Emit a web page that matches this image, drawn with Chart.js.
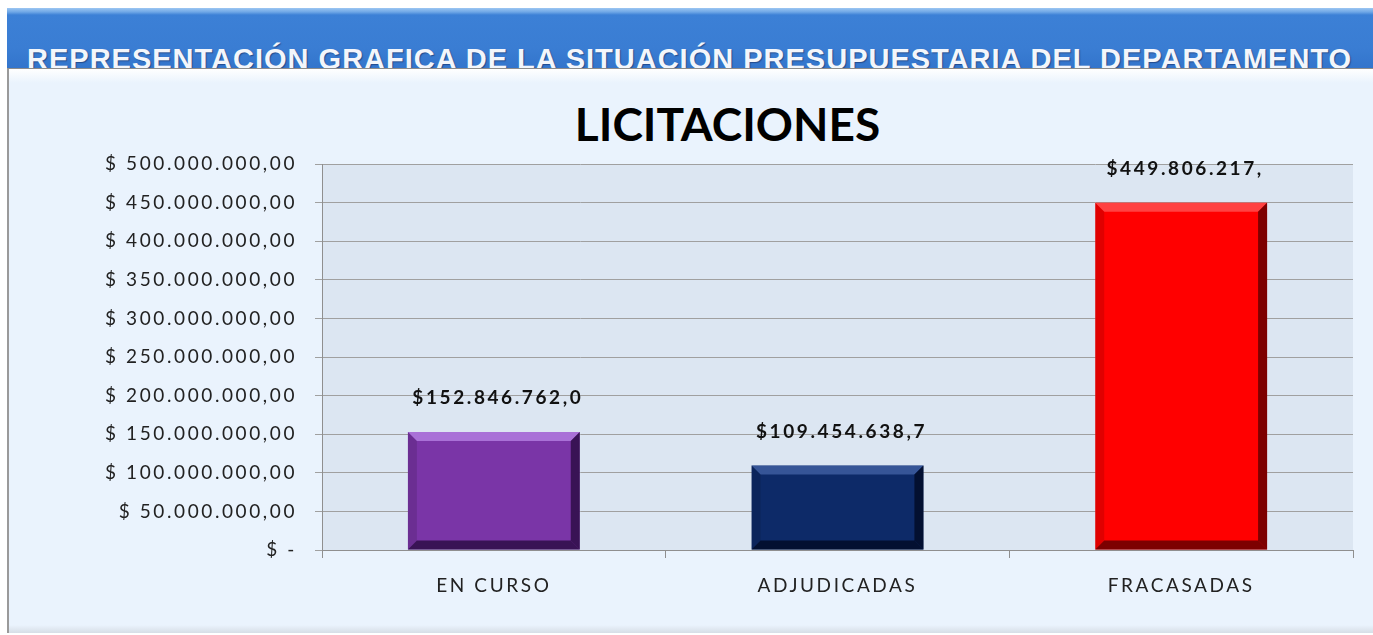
<!DOCTYPE html>
<html lang="es">
<head>
<meta charset="utf-8">
<title>Licitaciones</title>
<script src="https://cdn.jsdelivr.net/npm/chart.js@4"></script>
<style>
  html, body { margin: 0; padding: 0; background: #fff; width: 1373px; height: 635px; overflow: hidden; }
  .banner {
    position: absolute; left: 7px; top: 8px; width: 1366px; height: 62px;
    background: linear-gradient(to bottom, #9cc6f2 0px, #6fa7e6 4px, #3c80d6 7px, #3a7dd3 40px, #3274cb 62px);
    overflow: hidden;
  }
  .banner span {
    position: absolute; left: 20px; top: 35px;
    font: bold 29px "Liberation Sans", Arial, sans-serif; letter-spacing: 1px;
    color: #f3f6fb; text-shadow: 1px 1px 1px rgba(20,40,90,0.55); white-space: nowrap;
  }
  .panel {
    position: absolute; left: 7px; top: 68px; width: 1366px; height: 565px;
    background: linear-gradient(to bottom, #ffffff 0px, #eaf3fd 14px, #eaf3fd 556px, #d4dbe3 565px);
    border-top: 1px solid #8c8c8c; border-left: 2px solid #9a9a9a; box-sizing: border-box;
  }
  .title {
    position: absolute; left: 0; width: 1455px; top: 96px; text-align: center;
    font: bold 46px Lato, "Open Sans", sans-serif; color: #000;
  }
  #chart { position: absolute; left: 7px; top: 68px; }
</style>
</head>
<body>
<div class="banner"><span>REPRESENTACIÓN GRAFICA DE LA SITUACIÓN PRESUPUESTARIA DEL DEPARTAMENTO</span></div>
<div class="panel"></div>
<div class="title">LICITACIONES</div>
<canvas id="chart" width="1366" height="565"></canvas>
<script>
// Datos del grafico
const categories = ["EN CURSO", "ADJUDICADAS", "FRACASADAS"];
const values = [152846762.0, 109454638.7, 449806217.0];
const valueLabels = ["$152.846.762,0", "$109.454.638,7", "$449.806.217,"];
const yTickLabels = ["$ -", "$ 50.000.000,00", "$ 100.000.000,00", "$ 150.000.000,00",
  "$ 200.000.000,00", "$ 250.000.000,00", "$ 300.000.000,00", "$ 350.000.000,00",
  "$ 400.000.000,00", "$ 450.000.000,00", "$ 500.000.000,00"];

const barColors = ["#7a35a7", "#0d2a68", "#ff0000"];
const bevelLight = ["rgba(190,140,235,0.7)", "rgba(90,120,190,0.55)", "rgba(255,120,120,0.55)"];
const bevelDark = ["rgba(30,5,50,0.7)", "rgba(0,5,25,0.7)", "rgba(70,0,0,0.7)"];

// Texto algo mas ancho (el original esta estirado)
const spacing = {
  id: "spacing",
  beforeLayout(chart) { chart.ctx.letterSpacing = "2.6px"; },
  beforeDraw(chart) { chart.ctx.letterSpacing = "2.6px"; }
};

// Fondo del area de trazado
const plotBg = {
  id: "plotBg",
  beforeDraw(chart) {
    const { ctx, chartArea: a } = chart;
    ctx.save();
    ctx.fillStyle = "#dce6f2";
    ctx.fillRect(a.left, a.top, a.right - a.left, a.bottom - a.top);
    ctx.restore();
  }
};

// Bisel de las barras
const bevel = {
  id: "bevel",
  afterDatasetsDraw(chart) {
    const ctx = chart.ctx;
    const poly = (pts, color) => {
      ctx.beginPath();
      ctx.moveTo(pts[0][0], pts[0][1]);
      pts.slice(1).forEach(p => ctx.lineTo(p[0], p[1]));
      ctx.closePath();
      ctx.fillStyle = color;
      ctx.fill();
    };
    chart.getDatasetMeta(0).data.forEach((bar, i) => {
      const p = bar.getProps(["x", "y", "base", "width"], true);
      const l = p.x - p.width / 2, r = p.x + p.width / 2, t = p.y, b = p.base;
      const d = 9;
      ctx.save();
      poly([[l, t], [r, t], [r - d, t + d], [l + d, t + d]], bevelLight[i]);
      poly([[r, t], [r, b], [r - d, b - d], [r - d, t + d]], bevelDark[i]);
      poly([[l, b], [r, b], [r - d, b - d], [l + d, b - d]], bevelDark[i]);
      poly([[l, t], [l, b], [l + d, b - d], [l + d, t + d]], "rgba(0,0,0,0.12)");
      ctx.restore();
    });
  }
};

// Etiquetas de valor
const valueText = {
  id: "valueText",
  afterDatasetsDraw(chart) {
    const ctx = chart.ctx;
    ctx.save();
    ctx.font = "bold 19px Lato, 'Open Sans', sans-serif";
    ctx.fillStyle = "#111";
    ctx.textAlign = "center";
    ctx.textBaseline = "middle";
    chart.getDatasetMeta(0).data.forEach((bar, i) => {
      ctx.fillText(valueLabels[i], bar.x + 4, bar.y - 34);
    });
    ctx.restore();
  }
};

new Chart(document.getElementById("chart").getContext("2d"), {
  type: "bar",
  data: {
    labels: categories,
    datasets: [{
      data: values,
      backgroundColor: barColors,
      borderWidth: 0,
      barPercentage: 0.5,
      categoryPercentage: 1
    }]
  },
  options: {
    responsive: false,
    animation: false,
    events: [],
    layout: { padding: { left: 10, right: 20, top: 96, bottom: 0 } },
    plugins: { legend: { display: false }, tooltip: { enabled: false }, title: { display: false } },
    scales: {
      x: {
        grid: { drawOnChartArea: false, drawTicks: true, tickLength: 8, color: "#8f8f8f" },
        border: { display: true, color: "#8f8f8f" },
        ticks: { color: "#222", font: { family: "Lato, 'Open Sans', sans-serif", size: 19 }, padding: 16 },
        afterFit(scale) { scale.height = 83; }
      },
      y: {
        min: 0, max: 500000000,
        ticks: {
          stepSize: 50000000,
          color: "#222",
          font: { family: "Lato, 'Open Sans', sans-serif", size: 19 },
          padding: 18,
          callback: (v, i) => yTickLabels[i]
        },
        grid: { color: "#a0a0a0", tickLength: 7 },
        border: { display: true, color: "#8f8f8f" },
        afterFit(scale) { scale.width = 305; }
      }
    }
  },
  plugins: [spacing, plotBg, bevel, valueText]
});
</script>
</body>
</html>
